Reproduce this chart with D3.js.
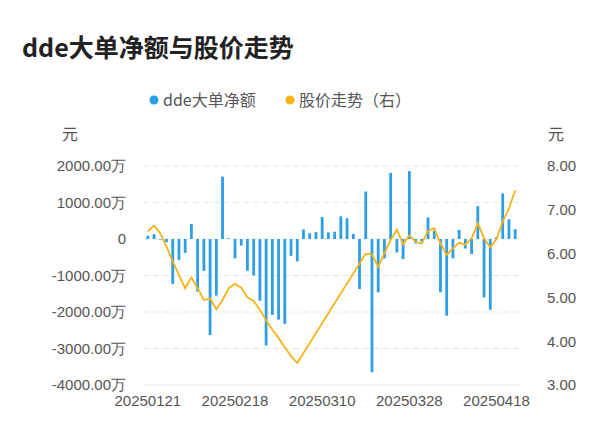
<!DOCTYPE html>
<html><head><meta charset="utf-8">
<script src="https://cdn.jsdelivr.net/npm/d3@7"></script>
<style>body{margin:0;background:#fff}text{font-family:"Noto Sans CJK SC","Noto Sans",sans-serif}</style>
</head><body><svg id="c" width="600" height="446"></svg>
<script>
const dates = ['20250121','20250122','20250123','20250124','20250127','20250205','20250206','20250207','20250210','20250211',
  '20250212','20250213','20250214','20250217','20250218','20250219','20250220','20250221','20250224','20250225',
  '20250226','20250227','20250228','20250303','20250304','20250305','20250306','20250307','20250310','20250311',
  '20250312','20250313','20250314','20250317','20250318','20250319','20250320','20250321','20250324','20250325',
  '20250326','20250327','20250328','20250331','20250401','20250402','20250403','20250407','20250408','20250409',
  '20250410','20250411','20250414','20250415','20250416','20250417','20250418','20250421','20250422','20250423'];
const dde = [90,130,-20,-90,-1230,-580,-380,410,-1440,-870,
  -2630,-1550,1710,20,-530,-180,-870,-1000,-1690,-2920,
  -2080,-2210,-2330,-460,-610,260,160,190,600,180,
  200,620,570,140,-1370,1300,-3650,-1460,-530,1810,
  -370,-550,1860,-120,-70,590,230,-1460,-2100,-530,
  250,-260,-410,900,-1600,-1940,50,1250,540,270];
const price = [6.50,6.64,6.46,6.16,5.82,5.51,5.21,5.46,5.21,4.94,
  4.98,4.73,4.94,5.21,5.31,5.22,5.00,4.92,4.71,4.48,
  4.26,4.07,3.86,3.66,3.50,null,null,null,null,null,
  null,null,null,null,null,6.00,5.98,5.70,6.01,6.31,
  6.55,6.21,6.42,6.27,6.23,6.52,6.58,6.23,5.97,6.12,
  6.25,6.20,6.35,6.69,6.35,6.14,6.33,6.73,7.03,7.44];
const leftTicks = [2000,1000,0,-1000,-2000,-3000,-4000];
const rightTicks = [8,7,6,5,4,3];

const svg = d3.select('#c');
const L = 143, R = 520, T = 166, B = 385;
const x = d3.scaleBand().domain(dates).range([L, R]).padding(0.55);
const yL = d3.scaleLinear().domain([-4000, 2000]).range([B, T]);
const yR = d3.scaleLinear().domain([3, 8]).range([B, T]);

svg.append('text').attr('x', 22).attr('y', 57).attr('font-size', 25).attr('font-weight', 'bold')
  .attr('fill', '#222').text('dde大单净额与股价走势');

// legend
const lg = svg.append('g').attr('font-size', 16).attr('fill', '#555');
lg.append('circle').attr('cx', 154).attr('cy', 100).attr('r', 4.5).attr('fill', '#2e9ee8');
lg.append('text').attr('x', 163).attr('y', 106).attr('fill', '#555').text('dde大单净额');
lg.append('circle').attr('cx', 290).attr('cy', 100).attr('r', 4.5).attr('fill', '#f5b31a');
lg.append('text').attr('x', 299).attr('y', 106).attr('fill', '#555').text('股价走势（右）');

// grid
svg.append('g').selectAll('line').data(leftTicks).join('line')
  .attr('x1', L).attr('x2', R).attr('y1', d => yL(d)).attr('y2', d => yL(d))
  .attr('stroke', '#e6e6e6').attr('stroke-dasharray', d => d === -4000 ? null : '6,4');

const axL = svg.append('g').attr('transform', `translate(${L - 14},0)`)
  .call(d3.axisLeft(yL).tickValues(leftTicks).tickSize(0).tickFormat(d => d === 0 ? '0' : d.toFixed(2) + '万'));
const axR = svg.append('g').attr('transform', `translate(${R + 24},0)`)
  .call(d3.axisRight(yR).tickValues(rightTicks).tickSize(0).tickFormat(d => d.toFixed(2)));
[axL, axR].forEach(a => { a.select('.domain').remove(); a.selectAll('text').attr('font-size', 15).attr('fill', '#555').style('font-family', '"Liberation Sans",sans-serif'); });

svg.append('text').attr('x', 62).attr('y', 140).attr('font-size', 16).attr('fill', '#555').text('元');
svg.append('text').attr('x', 548).attr('y', 140).attr('font-size', 16).attr('fill', '#555').text('元');

const xAx = svg.append('g').attr('transform', `translate(0,${B})`)
  .call(d3.axisBottom(x).tickValues(dates.filter((d, i) => i % 14 === 0)).tickSize(0).tickPadding(10));
xAx.select('.domain').remove();
xAx.selectAll('text').attr('font-size', 15).attr('fill', '#555').style('font-family', '"Liberation Sans",sans-serif');

svg.append('g').selectAll('rect').data(dde).join('rect')
  .attr('x', (d, i) => x(dates[i])).attr('width', x.bandwidth())
  .attr('y', d => yL(Math.max(0, d))).attr('height', d => Math.abs(yL(d) - yL(0)))
  .attr('fill', '#2e9ee8');

const pts = price.map((p, i) => [dates[i], p]).filter(d => d[1] !== null);
svg.append('path').datum(pts)
  .attr('d', d3.line().x(d => x(d[0]) + x.bandwidth() / 2).y(d => yR(d[1])))
  .attr('fill', 'none').attr('stroke', '#f5b31a').attr('stroke-width', 1.8);
</script></body></html>
